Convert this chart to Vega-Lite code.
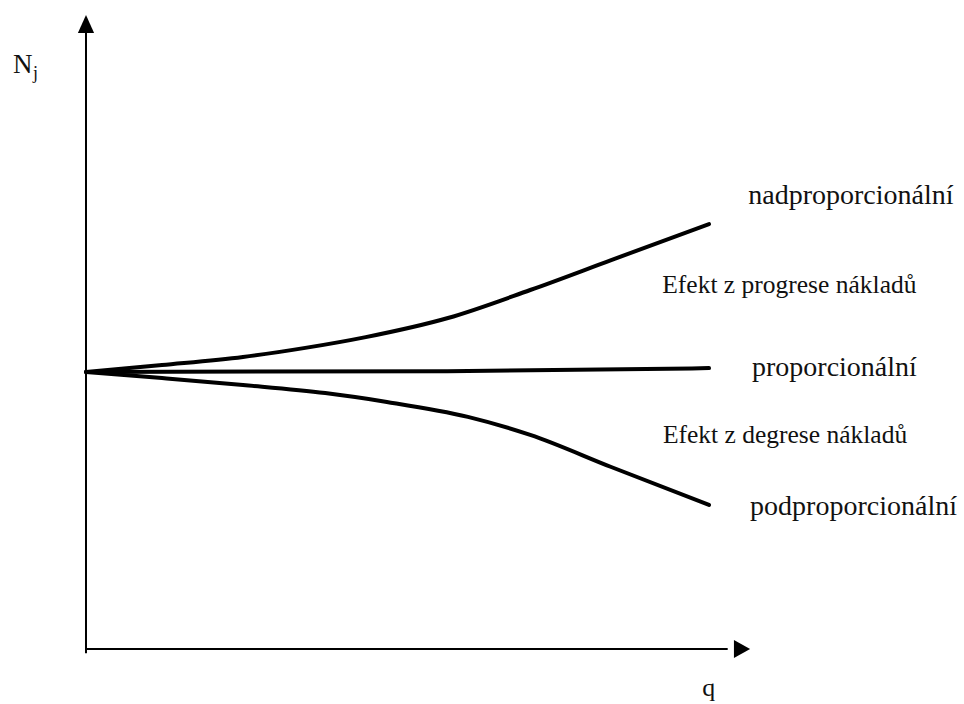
{
  "$schema": "https://vega.github.io/schema/vega-lite/v6.json",
  "width": 964,
  "height": 704,
  "autosize": {"type": "fit", "contains": "padding"},
  "padding": 0,
  "background": "white",
  "config": {"view": {"stroke": null}},
  "layer": [
    {
      "data": {"values": [
        {"axis": "y", "q": 0, "q2": 0, "N": -0.15, "N2": 22.3},
        {"axis": "x", "q": 0, "q2": 10.3, "N": 0, "N2": 0}
      ]},
      "mark": {"type": "rule", "color": "black", "strokeWidth": 2},
      "encoding": {
        "x": {"field": "q", "type": "quantitative", "scale": {"domain": [-1.3804, 14.093], "nice": false, "zero": false}, "axis": null},
        "x2": {"field": "q2"},
        "y": {"field": "N", "type": "quantitative", "scale": {"domain": [-1.986, 23.43], "nice": false, "zero": false}, "axis": null},
        "y2": {"field": "N2"}
      }
    },
    {
      "data": {"values": [{"q": 0, "N": 22.56}]},
      "mark": {"type": "point", "shape": "M0,-1L0.9,1L-0.9,1Z", "size": 324, "filled": true, "color": "black", "opacity": 1},
      "encoding": {
        "x": {"field": "q", "type": "quantitative"},
        "y": {"field": "N", "type": "quantitative"}
      }
    },
    {
      "data": {"values": [{"q": 10.53, "N": 0}]},
      "mark": {"type": "point", "shape": "M0.9,0L-0.9,1L-0.9,-1Z", "size": 324, "filled": true, "color": "black", "opacity": 1},
      "encoding": {
        "x": {"field": "q", "type": "quantitative"},
        "y": {"field": "N", "type": "quantitative"}
      }
    },
    {
      "data": {"values": [
        {"series": "nad", "q": 0, "N": 10.0},
        {"series": "nad", "q": 1.22, "N": 10.25},
        {"series": "nad", "q": 2.52, "N": 10.54},
        {"series": "nad", "q": 3.52, "N": 10.87},
        {"series": "nad", "q": 4.49, "N": 11.26},
        {"series": "nad", "q": 5.81, "N": 11.95},
        {"series": "nad", "q": 7.13, "N": 12.96},
        {"series": "nad", "q": 8.43, "N": 14.04},
        {"series": "nad", "q": 10, "N": 15.34},
        {"series": "pro", "q": 0, "N": 10.0},
        {"series": "pro", "q": 5.8, "N": 10.03},
        {"series": "pro", "q": 10, "N": 10.14},
        {"series": "pod", "q": 0, "N": 10.0},
        {"series": "pod", "q": 1.22, "N": 9.78},
        {"series": "pod", "q": 2.52, "N": 9.53},
        {"series": "pod", "q": 3.84, "N": 9.24},
        {"series": "pod", "q": 4.83, "N": 8.92},
        {"series": "pod", "q": 6.13, "N": 8.38},
        {"series": "pod", "q": 7.13, "N": 7.73},
        {"series": "pod", "q": 8.43, "N": 6.57},
        {"series": "pod", "q": 10, "N": 5.2}
      ]},
      "mark": {"type": "line", "color": "black", "strokeWidth": 4, "interpolate": "monotone", "strokeCap": "round"},
      "encoding": {
        "x": {"field": "q", "type": "quantitative"},
        "y": {"field": "N", "type": "quantitative"},
        "detail": {"field": "series"},
        "order": {"field": "q", "type": "quantitative"}
      }
    },
    {
      "data": {"values": [
        {"label": "nadproporcionální", "q": 10.63, "N": 16.06},
        {"label": "proporcionální", "q": 10.69, "N": 9.86},
        {"label": "podproporcionální", "q": 10.66, "N": 4.84}
      ]},
      "mark": {"type": "text", "font": "Liberation Serif", "fontSize": 28, "align": "left", "baseline": "alphabetic", "color": "#111"},
      "encoding": {
        "x": {"field": "q", "type": "quantitative"},
        "y": {"field": "N", "type": "quantitative"},
        "text": {"field": "label"}
      }
    },
    {
      "data": {"values": [
        {"label": "Efekt z progrese nákladů", "q": 9.25, "N": 12.85},
        {"label": "Efekt z degrese nákladů", "q": 9.26, "N": 7.44}
      ]},
      "mark": {"type": "text", "font": "Liberation Serif", "fontSize": 25.5, "align": "left", "baseline": "alphabetic", "color": "#111"},
      "encoding": {
        "x": {"field": "q", "type": "quantitative"},
        "y": {"field": "N", "type": "quantitative"},
        "text": {"field": "label"}
      }
    },
    {
      "data": {"values": [
        {"label": "N", "q": -1.17, "N": 20.79}
      ]},
      "mark": {"type": "text", "font": "Liberation Serif", "fontSize": 27, "align": "left", "baseline": "alphabetic", "color": "#111"},
      "encoding": {
        "x": {"field": "q", "type": "quantitative"},
        "y": {"field": "N", "type": "quantitative"},
        "text": {"field": "label"}
      }
    },
    {
      "data": {"values": [
        {"label": "j", "q": -0.85, "N": 20.58}
      ]},
      "mark": {"type": "text", "font": "Liberation Serif", "fontSize": 18, "align": "left", "baseline": "alphabetic", "color": "#111"},
      "encoding": {
        "x": {"field": "q", "type": "quantitative"},
        "y": {"field": "N", "type": "quantitative"},
        "text": {"field": "label"}
      }
    },
    {
      "data": {"values": [
        {"label": "q", "q": 9.89, "N": -1.7}
      ]},
      "mark": {"type": "text", "font": "Liberation Serif", "fontSize": 26, "align": "left", "baseline": "alphabetic", "color": "#111"},
      "encoding": {
        "x": {"field": "q", "type": "quantitative"},
        "y": {"field": "N", "type": "quantitative"},
        "text": {"field": "label"}
      }
    }
  ]
}
